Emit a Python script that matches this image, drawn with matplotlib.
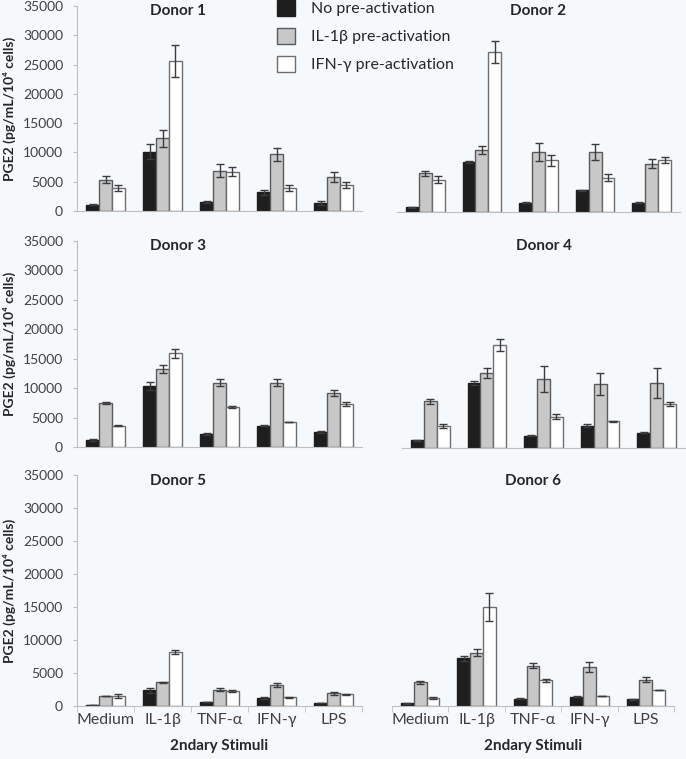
import matplotlib
matplotlib.use('Agg')
import matplotlib.pyplot as plt
from matplotlib.patches import Patch
import numpy as np

plt.rcParams['font.family'] = ['Lato', 'DejaVu Sans']

stimuli = ['Medium', 'IL-1β', 'TNF-α', 'IFN-γ', 'LPS']
series_names = ['No pre-activation', 'IL-1β pre-activation', 'IFN-γ pre-activation']
donors = ['Donor 1', 'Donor 2', 'Donor 3', 'Donor 4', 'Donor 5', 'Donor 6']
yticks = [0, 5000, 10000, 15000, 20000, 25000, 30000, 35000]

# values per donor: [no pre-activation, IL-1b pre-activation, IFN-g pre-activation]
d1_mean = [[1100, 10100, 1500, 3200, 1400],
           [5300, 12400, 6900, 9700, 5800],
           [3900, 25600, 6700, 3900, 4500]]
d1_err = [[150, 1300, 150, 400, 300],
          [600, 1400, 1100, 1100, 800],
          [500, 2800, 750, 500, 500]]

d2_mean = [[800, 8500, 1600, 3700, 1600],
           [6600, 10500, 10200, 10200, 8200],
           [5500, 27200, 8800, 5800, 8900]]
d2_err = [[50, 100, 100, 100, 100],
          [400, 700, 1500, 1300, 800],
          [600, 1800, 900, 600, 500]]

d3_mean = [[1200, 10300, 2200, 3600, 2600],
           [7500, 13200, 10900, 10900, 9200],
           [3600, 15900, 6800, 4200, 7300]]
d3_err = [[100, 700, 200, 100, 200],
          [150, 700, 600, 600, 500],
          [100, 800, 200, 0, 300]]

d4_mean = [[1300, 11000, 2100, 3800, 2600],
           [7900, 12700, 11600, 10800, 11000],
           [3700, 17400, 5300, 4500, 7400]]
d4_err = [[50, 300, 50, 200, 50],
          [400, 800, 2200, 1800, 2500],
          [300, 1000, 400, 50, 300]]

d5_mean = [[150, 2400, 600, 1200, 450],
           [1500, 3600, 2500, 3200, 1900],
           [1500, 8200, 2300, 1300, 1750]]
d5_err = [[0, 400, 50, 100, 50],
          [50, 100, 300, 300, 200],
          [250, 300, 150, 50, 100]]

d6_mean = [[400, 7200, 1100, 1400, 1000],
           [3600, 8100, 6100, 5900, 4000],
           [1200, 15000, 3900, 1500, 2400]]
d6_err = [[50, 400, 50, 50, 50],
          [200, 500, 400, 700, 400],
          [100, 2100, 250, 50, 50]]

means = [d1_mean, d2_mean, d3_mean, d4_mean, d5_mean, d6_mean]
errs = [d1_err, d2_err, d3_err, d4_err, d5_err, d6_err]

W, H = 686, 759
# axes boxes in pixels: left, top, right, bottom
boxes = [(77, 6, 362, 211), (397, 6, 680, 212),
         (77, 241, 362, 447), (402, 241, 685, 448),
         (77, 475, 362, 706), (392, 475, 674, 706)]
title_x = [0.354, 0.5, 0.354, 0.5, 0.354, 0.5]

face = ['#1e1e1e', '#c8c8c8', '#ffffff']
edge = ['#1e1e1e', '#5a5a5a', '#6e6e6e']
bg = '#f6f9fc'
txt = '#404040'

fig = plt.figure(figsize=(W / 100, H / 100), dpi=100, facecolor=bg)

x = np.arange(len(stimuli))
bw = 0.228
for k in range(6):
    l, t, r, b = boxes[k]
    ax = fig.add_axes([l / W, 1 - b / H, (r - l) / W, (b - t) / H])
    ax.set_facecolor(bg)
    for s in range(3):
        ax.bar(x + (s - 1) * bw, means[k][s], bw, color=face[s], edgecolor=edge[s],
               linewidth=1, yerr=errs[k][s], capsize=3,
               error_kw=dict(ecolor='#3c3c3c', elinewidth=1, capthick=1), zorder=2)
    ax.set_xlim(-0.5, 4.5)
    ax.set_ylim(0, 35000)
    for sp in ['top', 'right']:
        ax.spines[sp].set_visible(False)
    ax.spines['bottom'].set_color('#bfbfbf')
    ax.spines['left'].set_color('#bfbfbf')
    ax.text(title_x[k], 0.975, donors[k], transform=ax.transAxes, ha='center', va='center',
            fontsize=11, fontweight='bold', color='#262626')
    if k % 2 == 0:
        ax.set_yticks(yticks)
        ax.tick_params(axis='y', length=3, color='#bfbfbf', labelsize=10, labelcolor=txt, pad=7)
        ax.set_ylabel('PGE2 (pg/mL/10⁴ cells)', fontsize=10, fontweight='bold', color='#262626', labelpad=5)
    else:
        ax.spines['left'].set_visible(False)
        ax.set_yticks([])
    if k >= 4:
        ax.set_xticks(x)
        ax.set_xticklabels(stimuli)
        ax.set_xticks(np.arange(-0.5, 5.0, 1.0), minor=True)
        ax.tick_params(axis='x', which='major', length=0, labelsize=11.5, labelcolor=txt, pad=5)
        ax.tick_params(axis='x', which='minor', length=4, color='#bfbfbf')
        ax.set_xlabel('2ndary Stimuli', fontsize=11, fontweight='bold', color='#262626', labelpad=9)
    else:
        ax.set_xticks([])

handles = [Patch(facecolor=face[i], edgecolor=edge[i] if i else face[i], linewidth=1) for i in range(3)]
fig.legend(handles, series_names, loc='upper left', bbox_to_anchor=(277 / W, 1.0),
           frameon=False, fontsize=11.5, handlelength=1.15, handleheight=1.15,
           handletextpad=1.0, labelspacing=0.72, borderpad=0, borderaxespad=0,
           labelcolor='#262626')

fig.savefig('out.png', dpi=100, facecolor=bg)
